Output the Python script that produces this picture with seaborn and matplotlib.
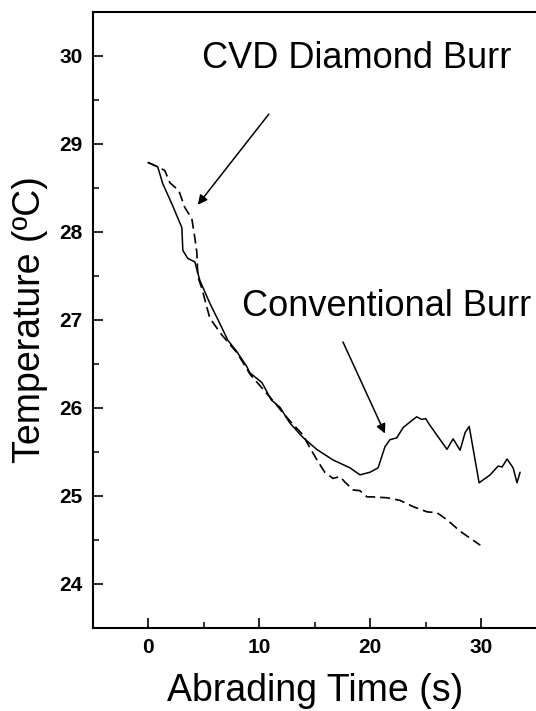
import pandas as pd
import matplotlib
matplotlib.use("Agg")
import matplotlib.pyplot as plt
from matplotlib.ticker import MultipleLocator
import seaborn as sns

# conventional burr (solid line)
conv_time = [0.0, 0.87, 1.32, 2.14, 3.04, 3.13, 3.57, 4.21, 4.66, 5.56, 6.46, 7.18,
             7.99, 8.89, 9.16, 10.24, 11.1, 11.86, 12.76, 13.9, 15.17, 16.64, 18.17,
             19.07, 19.97, 20.7, 21.32, 21.77, 22.37, 22.97, 23.57, 24.17, 24.62,
             24.98, 25.33, 26.9, 27.45, 28.08, 28.53, 28.9, 29.79, 30.78, 31.5,
             31.86, 32.31, 32.85, 33.2, 33.48]
conv_temp = [28.79, 28.74, 28.55, 28.32, 28.05, 27.79, 27.70, 27.66, 27.45, 27.19,
             26.96, 26.77, 26.64, 26.47, 26.40, 26.29, 26.09, 26.01, 25.83, 25.67,
             25.53, 25.41, 25.32, 25.24, 25.27, 25.32, 25.56, 25.64, 25.66, 25.78,
             25.84, 25.90, 25.87, 25.88, 25.81, 25.53, 25.65, 25.52, 25.72, 25.79,
             25.15, 25.24, 25.34, 25.33, 25.42, 25.32, 25.15, 25.27]

# CVD diamond burr (dashed line)
cvd_time = [0.0, 0.87, 1.5, 1.96, 2.77, 3.3, 3.94, 4.2, 4.39, 4.48, 4.84, 5.56,
            6.64, 7.99, 9.2, 10.3, 11.4, 12.1, 13.0, 13.9, 14.56, 15.2, 15.9,
            16.64, 17.27, 17.7, 18.44, 19.07, 19.7, 20.15, 21.5, 22.67, 23.84,
            25.1, 26.0, 26.9, 28.08, 29.1, 29.9]
cvd_temp = [28.79, 28.74, 28.70, 28.56, 28.47, 28.28, 28.15, 27.94, 27.77, 27.49,
            27.36, 27.02, 26.83, 26.63, 26.38, 26.22, 26.06, 25.95, 25.82, 25.70,
            25.55, 25.41, 25.27, 25.20, 25.22, 25.16, 25.07, 25.06, 24.99, 24.99,
            24.98, 24.95, 24.88, 24.82, 24.81, 24.73, 24.60, 24.51, 24.44]

conv_df = pd.DataFrame({"time": conv_time, "temp": conv_temp})
cvd_df = pd.DataFrame({"time": cvd_time, "temp": cvd_temp})

sns.set_style("ticks")
plt.rcParams["font.family"] = ["Liberation Sans", "DejaVu Sans"]
plt.rcParams["text.color"] = "black"
plt.rcParams["axes.labelcolor"] = "black"

fig = plt.figure(figsize=(5.36, 7.11), dpi=100)
ax = fig.add_axes([92.5 / 536, 83 / 711, 444.5 / 536, 616 / 711])

sns.lineplot(data=conv_df, x="time", y="temp", ax=ax, color="black", linewidth=1.1)
sns.lineplot(data=cvd_df, x="time", y="temp", ax=ax, color="black", linewidth=1.2,
             linestyle=(0, (6, 3)))

ax.set_xlim(-5, 35)
ax.set_ylim(23.5, 30.5)
ax.xaxis.set_major_locator(MultipleLocator(10))
ax.xaxis.set_minor_locator(MultipleLocator(5))
ax.yaxis.set_major_locator(MultipleLocator(1))
ax.yaxis.set_minor_locator(MultipleLocator(0.5))
ax.tick_params(which="major", direction="in", length=7, width=1.2, pad=7,
               labelsize=15, color="black", labelcolor="black")
ax.tick_params(which="minor", direction="in", length=4, width=1.1, color="black")
for lab in ax.get_xticklabels() + ax.get_yticklabels():
    lab.set_fontweight("bold")

for side in ["left", "bottom", "top"]:
    ax.spines[side].set_linewidth(1.5)
    ax.spines[side].set_color("black")
ax.spines["right"].set_visible(False)

ax.set_xlabel("Abrading Time (s)", fontsize=27, labelpad=12)
ax.set_ylabel("Temperature (ºC)", fontsize=27, labelpad=8)

ax.text(18.75, 29.97, "CVD Diamond Burr", fontsize=26, ha="center", va="center")
ax.annotate("", xy=(4.48, 28.31), xytext=(10.87, 29.34),
            arrowprops=dict(arrowstyle="-|>", color="black", lw=1.1,
                            mutation_scale=14, shrinkA=0, shrinkB=0))
ax.text(21.5, 27.15, "Conventional Burr", fontsize=26, ha="center", va="center")
ax.annotate("", xy=(21.32, 25.71), xytext=(17.54, 26.75),
            arrowprops=dict(arrowstyle="-|>", color="black", lw=1.1,
                            mutation_scale=14, shrinkA=0, shrinkB=0))

fig.savefig("out.png", dpi=100)
